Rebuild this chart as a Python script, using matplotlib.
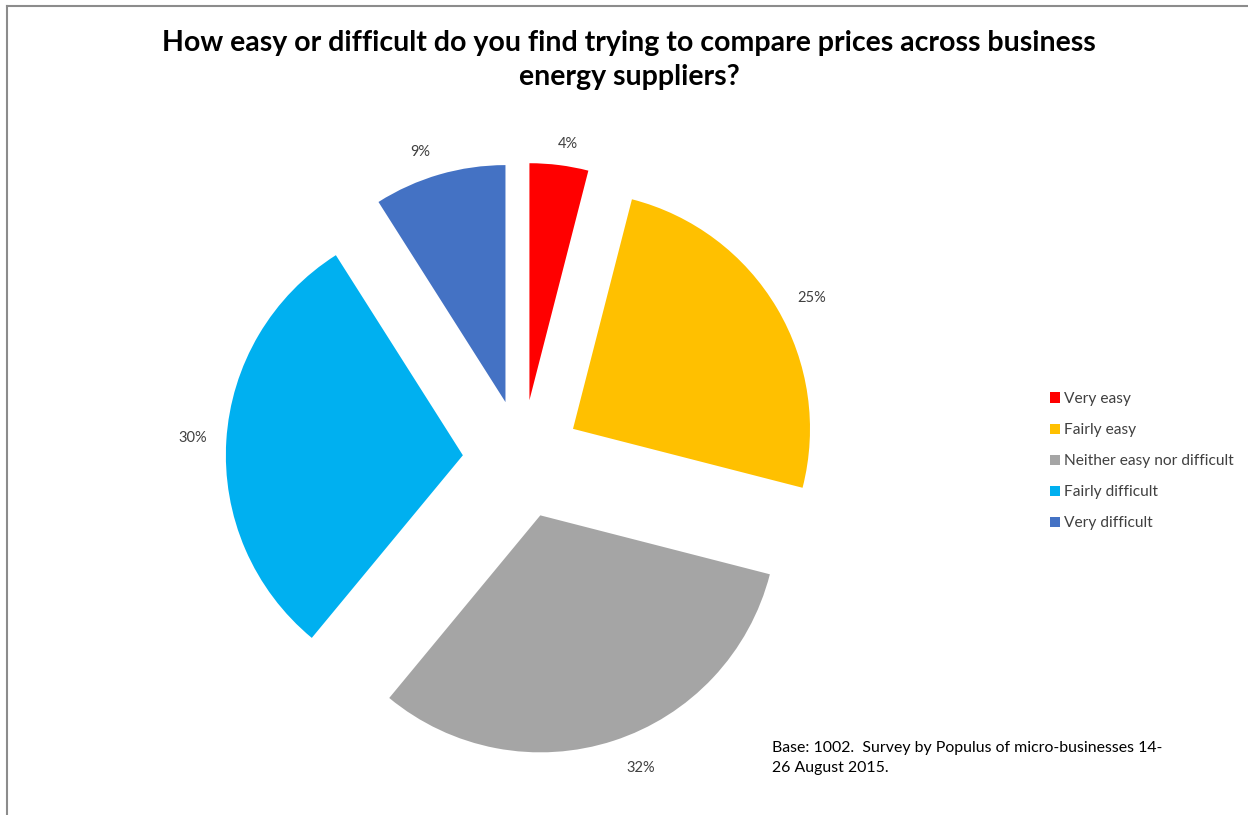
import matplotlib
matplotlib.use("Agg")
import matplotlib.pyplot as plt
from matplotlib.patches import Patch

plt.rcParams['font.family'] = ['Lato', 'DejaVu Sans']

categories = ['Very easy', 'Fairly easy', 'Neither easy nor difficult',
              'Fairly difficult', 'Very difficult']
shares = [4, 25, 32, 30, 9]
colors = ['#FF0000', '#FFC000', '#A5A5A5', '#00B0F0', '#4472C4']

title = 'How easy or difficult do you find trying to compare prices across business\nenergy suppliers?'
note = 'Base: 1002.  Survey by Populus of micro-businesses 14-\n26 August 2015.'

W, H = 1248, 815
fig = plt.figure(figsize=(W / 100, H / 100), dpi=100)
ax = fig.add_axes([0, 0, 1, 1])

wedges, texts, autotexts = ax.pie(
    shares, colors=colors, startangle=90, counterclock=False,
    explode=[0.25] * len(shares), autopct='%d%%', pctdistance=1.14,
    textprops=dict(fontsize=10.5, color='#404040'),
    wedgeprops=dict(linewidth=0),
)
# small label nudges (data units)
for t, (dx, dy) in zip(autotexts, [(0.02, -0.05), (0.025, -0.03), (0.07, 0.02),
                                   (0.0, 0.0), (-0.04, -0.04)]):
    x, y = t.get_position()
    t.set_position((x + dx, y + dy))

# pixel layout: pie centre and radius in pixels
cx, cy, r = 522, 459, 237
ax.set_xlim(-cx / r, (W - cx) / r)
ax.set_ylim(-(H - cy) / r, cy / r)
ax.set_aspect('auto')
ax.axis('off')

# thin frame on left and top
fig.add_artist(plt.Line2D([7 / W, 7 / W], [0, 1 - 6 / H], color='#8c8c8c', lw=1.5))
fig.add_artist(plt.Line2D([7 / W, 1], [1 - 6 / H, 1 - 6 / H], color='#8c8c8c', lw=1.5))

fig.text(629 / W, 1 - 60 / H, title, ha='center', va='center', fontsize=20.5,
         fontweight='bold', color='black', linespacing=1.42)

handles = [Patch(facecolor=c, edgecolor='none') for c in colors]
fig.legend(handles, categories, loc='upper left', bbox_to_anchor=(1036 / W, 1 - 378 / H),
           frameon=False, fontsize=11.2, handlelength=0.62, handleheight=0.62,
           handletextpad=0.25, labelspacing=1.1, labelcolor='#404040')

fig.text(772 / W, 1 - 758 / H, note, ha='left', va='center', fontsize=11.4,
         color='black', linespacing=1.6)

fig.savefig('out.png', dpi=100)
